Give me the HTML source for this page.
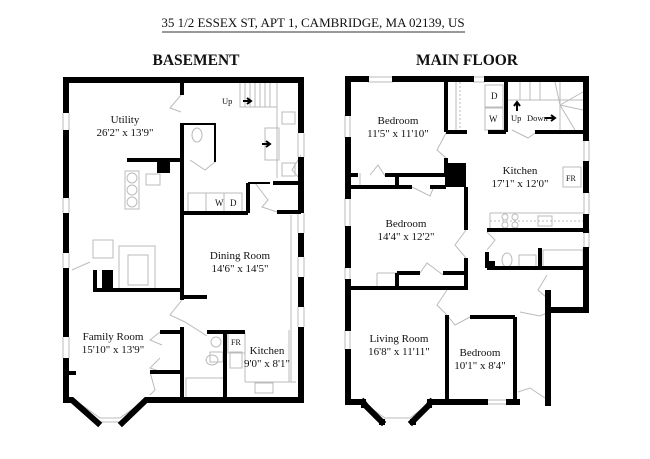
<!DOCTYPE html>
<html><head><meta charset="utf-8"><style>
html,body{margin:0;padding:0;background:#fff;}
svg{display:block;}
text{font-family:"Liberation Serif",serif;fill:#111;}
</style></head><body>
<svg width="650" height="459" viewBox="0 0 650 459" xmlns="http://www.w3.org/2000/svg">
<rect width="650" height="459" fill="#fff"/>
<text x="313" y="27" font-size="13" text-anchor="middle">35 1/2 ESSEX ST,  APT 1, CAMBRIDGE, MA 02139, US</text>
<line x1="162" y1="32" x2="465" y2="32" stroke="#333" stroke-width="1"/>
<text x="196" y="65" font-size="15.5" font-weight="bold" text-anchor="middle">BASEMENT</text>
<text x="467" y="65" font-size="15.5" font-weight="bold" text-anchor="middle">MAIN FLOOR</text>

<!-- BASEMENT -->
<g fill="none" stroke="#bbb" stroke-width="1">
<!-- windows -->
<line x1="63" y1="113" x2="63" y2="130"/><line x1="69" y1="113" x2="69" y2="130"/>
<line x1="63" y1="198" x2="63" y2="213"/><line x1="69" y1="198" x2="69" y2="213"/>
<line x1="63" y1="253" x2="63" y2="268"/><line x1="69" y1="253" x2="69" y2="268"/>
<line x1="63" y1="337" x2="63" y2="358"/><line x1="69" y1="337" x2="69" y2="358"/>
<line x1="298" y1="133" x2="298" y2="157"/><line x1="304" y1="133" x2="304" y2="157"/>
<line x1="298" y1="213" x2="298" y2="233"/><line x1="304" y1="213" x2="304" y2="233"/>
<line x1="298" y1="257" x2="298" y2="277"/><line x1="304" y1="257" x2="304" y2="277"/>
<line x1="298" y1="307" x2="298" y2="327"/><line x1="304" y1="307" x2="304" y2="327"/>
<!-- bay interior -->
<polyline points="75,400 100,418 120,418 145,400"/>
<line x1="100" y1="422" x2="120" y2="422"/>
<!-- stairs -->
<rect x="240" y="82" width="37" height="25"/>
<line x1="245" y1="82" x2="245" y2="107"/><line x1="250" y1="82" x2="250" y2="107"/><line x1="255" y1="82" x2="255" y2="107"/><line x1="260" y1="82" x2="260" y2="107"/><line x1="265" y1="82" x2="265" y2="107"/><line x1="270" y1="82" x2="270" y2="107"/>
<line x1="277" y1="82" x2="277" y2="178"/>
<rect x="282" y="112" width="13" height="12"/><rect x="282" y="163" width="13" height="13"/>
<rect x="265" y="128" width="14" height="32"/>
<!-- utility appliances -->
<rect x="125" y="171" width="14" height="38"/>
<circle cx="132" cy="178" r="5"/><circle cx="132" cy="190" r="5"/><circle cx="132" cy="202" r="5"/>
<rect x="146" y="174" width="14" height="11"/>
<rect x="93" y="240" width="20" height="18"/>
<rect x="119" y="246" width="36" height="44"/>
<rect x="128" y="255" width="20" height="30"/>
<!-- bath basement top -->
<ellipse cx="197" cy="135" rx="5" ry="7"/>
<!-- W D -->
<rect x="188" y="193" width="18" height="20"/><rect x="206" y="193" width="18" height="20"/><rect x="224" y="193" width="18" height="20"/>
<!-- doors -->
<polyline points="181,95 170,108 181,112"/>
<polyline points="215,162 205,170 190,160"/>
<polyline points="255,183 268,200 262,207 277,212"/>
<polyline points="301,155 292,170 301,180"/>
<polyline points="72,270 90,262"/>
<polyline points="182,300 170,315 185,322 207,336"/>
<polyline points="160,332 150,340 162,345"/>
<polyline points="160,358 150,368 162,372"/>
<polyline points="150,372 155,390 150,395"/>
<!-- kitchen/bath basement -->
<circle cx="216" cy="342" r="5"/><rect x="210" y="352" width="13" height="10"/>
<ellipse cx="212" cy="360" rx="6" ry="5"/>
<rect x="228" y="333" width="17" height="20"/>
<rect x="186" y="378" width="38" height="20"/>
<line x1="245" y1="353" x2="245" y2="382"/><line x1="245" y1="382" x2="296" y2="382"/>
<line x1="289" y1="330" x2="289" y2="382"/>
<line x1="291" y1="215" x2="291" y2="382"/>
<rect x="255" y="383" width="18" height="10"/>
<rect x="230" y="352" width="12" height="16"/>
</g>
<g stroke="#000" stroke-width="6" stroke-linecap="square" fill="none">
<line x1="66" y1="80" x2="66" y2="110"/>
<line x1="66" y1="133" x2="66" y2="195"/>
<line x1="66" y1="216" x2="66" y2="250"/>
<line x1="66" y1="271" x2="66" y2="334"/>
<line x1="66" y1="361" x2="66" y2="400"/>
<line x1="66" y1="80" x2="301" y2="80"/>
<line x1="301" y1="80" x2="301" y2="130"/>
<line x1="301" y1="160" x2="301" y2="210"/>
<line x1="301" y1="236" x2="301" y2="254"/>
<line x1="301" y1="280" x2="301" y2="304"/>
<line x1="301" y1="330" x2="301" y2="400"/>
<line x1="148" y1="400" x2="301" y2="400"/>
<polyline points="66,400 72,400 98,423"/>
<polyline points="122,423 146,400 150,400"/>
</g>
<g stroke="#000" stroke-width="4" fill="none">
<line x1="182" y1="80" x2="182" y2="95"/>
<line x1="182" y1="123" x2="182" y2="213"/>
<line x1="182" y1="158" x2="182" y2="300"/>
<line x1="182" y1="327" x2="182" y2="400"/>
<line x1="127" y1="160" x2="182" y2="160"/>
<line x1="182" y1="213" x2="248" y2="213"/>
<line x1="248" y1="183" x2="248" y2="213"/>
<line x1="273" y1="183" x2="301" y2="183"/>
<line x1="277" y1="212" x2="301" y2="212"/>
<line x1="93" y1="290" x2="182" y2="290"/>
<line x1="95" y1="270" x2="95" y2="290"/>
<line x1="182" y1="297" x2="207" y2="297"/>
<line x1="160" y1="332" x2="182" y2="332"/>
<line x1="150" y1="372" x2="182" y2="372"/>
<line x1="207" y1="332" x2="245" y2="332"/>
<line x1="225" y1="332" x2="225" y2="400"/>
<line x1="66" y1="373" x2="76" y2="373"/>
</g>
<g stroke="#000" stroke-width="2" fill="none">
<polyline points="182,124 215,124 215,162"/>
<line x1="248" y1="183" x2="270" y2="183"/>
</g>
<rect x="157" y="160" width="13" height="13" fill="#000"/>
<rect x="102" y="270" width="11" height="20" fill="#000"/>
<path d="M243,101 h7 M247,98 l4,3 l-4,3" stroke="#000" stroke-width="2" fill="none"/>
<path d="M262,144 h7 M266,141 l4,3 l-4,3" stroke="#000" stroke-width="2" fill="none"/>
<text x="222" y="104" font-size="8.5">Up</text>
<text x="215" y="206" font-size="9">W</text>
<text x="230" y="206" font-size="9">D</text>
<text x="231" y="345" font-size="8">FR</text>
<text x="125" y="123" font-size="11" text-anchor="middle">Utility</text>
<text x="125" y="136" font-size="11" text-anchor="middle">26'2" x 13'9"</text>
<text x="240" y="259" font-size="11" text-anchor="middle">Dining Room</text>
<text x="240" y="272" font-size="11" text-anchor="middle">14'6" x 14'5"</text>
<text x="113" y="340" font-size="11" text-anchor="middle">Family Room</text>
<text x="113" y="353" font-size="11" text-anchor="middle">15'10" x 13'9"</text>
<text x="267" y="354" font-size="11" text-anchor="middle">Kitchen</text>
<text x="267" y="367" font-size="11" text-anchor="middle">9'0" x 8'1"</text>

<!-- MAIN FLOOR -->
<g fill="none" stroke="#bbb" stroke-width="1">
<line x1="345" y1="115" x2="345" y2="138"/><line x1="350" y1="115" x2="350" y2="138"/>
<line x1="345" y1="198" x2="345" y2="227"/><line x1="350" y1="198" x2="350" y2="227"/>
<line x1="345" y1="267" x2="345" y2="280"/><line x1="350" y1="267" x2="350" y2="280"/>
<line x1="345" y1="330" x2="345" y2="350"/><line x1="350" y1="330" x2="350" y2="350"/>
<line x1="368" y1="77" x2="393" y2="77"/><line x1="368" y1="82" x2="393" y2="82"/>
<line x1="473" y1="77" x2="485" y2="77"/><line x1="473" y1="82" x2="485" y2="82"/>
<line x1="584" y1="140" x2="584" y2="162"/><line x1="589" y1="140" x2="589" y2="162"/>
<line x1="584" y1="192" x2="584" y2="215"/><line x1="589" y1="192" x2="589" y2="215"/>
<line x1="584" y1="230" x2="584" y2="248"/><line x1="589" y1="230" x2="589" y2="248"/>
<line x1="487" y1="400" x2="507" y2="400"/><line x1="487" y1="404" x2="507" y2="404"/>
<polyline points="365,404 385,418 410,418 428,404"/>
<!-- stairs left closet -->
<line x1="456" y1="82" x2="456" y2="130"/><line x1="460" y1="82" x2="460" y2="130" stroke-dasharray="2,2"/>
<rect x="485" y="85" width="18" height="22"/><rect x="485" y="108" width="18" height="22"/>
<!-- stairs right -->
<line x1="507" y1="100" x2="586" y2="100"/>
<line x1="520" y1="82" x2="520" y2="100"/><line x1="530" y1="82" x2="530" y2="100"/><line x1="540" y1="82" x2="540" y2="100"/>
<line x1="555" y1="82" x2="560" y2="105"/><line x1="560" y1="82" x2="560" y2="105"/><line x1="583" y1="92" x2="560" y2="105"/><line x1="583" y1="110" x2="560" y2="105"/><line x1="575" y1="130" x2="560" y2="105"/><line x1="560" y1="105" x2="560" y2="130"/>
<!-- FR -->
<rect x="563" y="167" width="18" height="20"/>
<!-- counter -->
<line x1="490" y1="213" x2="584" y2="213"/><line x1="490" y1="213" x2="490" y2="228"/>
<line x1="490" y1="221" x2="584" y2="221" stroke-dasharray="2,2"/>
<circle cx="505" cy="217" r="3"/><circle cx="515" cy="217" r="3"/><circle cx="505" cy="225" r="3"/><circle cx="515" cy="225" r="3"/>
<rect x="538" y="216" width="14" height="10"/>
<!-- bath -->
<ellipse cx="507" cy="260" rx="5" ry="7"/>
<rect x="519" y="255" width="17" height="12"/>
<rect x="543" y="250" width="40" height="17"/>
<!-- doors -->
<polyline points="446,133 437,150 446,158"/>
<polyline points="370,175 378,165 385,176"/>
<polyline points="412,187 430,196 433,189"/>
<polyline points="466,230 455,245 466,258"/>
<polyline points="420,273 427,263 443,275"/>
<polyline points="447,290 437,305 447,315"/>
<polyline points="447,315 455,325 470,317"/>
<polyline points="535,133 528,138 512,130"/>
<polyline points="487,232 495,240 487,250"/>
<polyline points="547,275 538,290 547,298"/>
<polyline points="520,312 540,316 547,313"/>
<polyline points="518,392 530,388 545,398"/>
<line x1="377" y1="287" x2="377" y2="273"/><line x1="377" y1="273" x2="397" y2="273"/>
<line x1="360" y1="187" x2="360" y2="173"/>
<line x1="487" y1="130" x2="507" y2="130"/>
</g>
<g stroke="#000" stroke-width="6" stroke-linecap="square" fill="none">
<line x1="348" y1="79" x2="348" y2="113"/>
<line x1="348" y1="140" x2="348" y2="196"/>
<line x1="348" y1="229" x2="348" y2="265"/>
<line x1="348" y1="282" x2="348" y2="328"/>
<line x1="348" y1="352" x2="348" y2="402"/>
<line x1="348" y1="79" x2="366" y2="79"/>
<line x1="395" y1="79" x2="471" y2="79"/>
<line x1="487" y1="79" x2="586" y2="79"/>
<line x1="586" y1="79" x2="586" y2="138"/>
<line x1="586" y1="164" x2="586" y2="190"/>
<line x1="586" y1="217" x2="586" y2="230"/>
<line x1="586" y1="250" x2="586" y2="310"/>
<line x1="586" y1="310" x2="548" y2="310"/>
<line x1="548" y1="293" x2="548" y2="403"/>
<line x1="348" y1="402" x2="363" y2="402"/>
<line x1="430" y1="402" x2="485" y2="402"/>
<line x1="509" y1="402" x2="517" y2="402"/>
<polyline points="363,402 366,406 382,422"/>
<polyline points="412,422 428,406 431,402"/>
</g>
<rect x="379" y="419" width="6" height="6" fill="#000"/><rect x="410" y="419" width="6" height="6" fill="#000"/>
<rect x="361" y="403" width="5" height="5" fill="#000"/><rect x="427" y="403" width="5" height="5" fill="#000"/>
<g stroke="#000" stroke-width="4" fill="none">
<line x1="446" y1="79" x2="446" y2="132"/>
<line x1="446" y1="132" x2="467" y2="132"/>
<line x1="446" y1="158" x2="446" y2="174"/>
<line x1="348" y1="175" x2="358" y2="175"/>
<line x1="385" y1="175" x2="446" y2="175"/>
<line x1="348" y1="187" x2="412" y2="187"/>
<line x1="430" y1="187" x2="446" y2="187"/>
<line x1="397" y1="175" x2="397" y2="187"/>
<line x1="466" y1="187" x2="466" y2="230"/>
<line x1="466" y1="258" x2="466" y2="290"/>
<line x1="397" y1="273" x2="420" y2="273"/>
<line x1="443" y1="273" x2="466" y2="273"/>
<line x1="397" y1="273" x2="397" y2="288"/>
<line x1="348" y1="288" x2="466" y2="288"/>
<line x1="447" y1="315" x2="447" y2="402"/>
<line x1="470" y1="317" x2="515" y2="317"/>
<line x1="515" y1="317" x2="515" y2="402"/>
<line x1="506" y1="79" x2="506" y2="132"/>
<line x1="488" y1="132" x2="506" y2="132"/>
<line x1="535" y1="132" x2="586" y2="132"/>
<line x1="487" y1="230" x2="586" y2="230"/>
<line x1="540" y1="248" x2="540" y2="268"/>
<line x1="487" y1="268" x2="583" y2="268"/>
<line x1="487" y1="252" x2="487" y2="268"/>
</g>
<rect x="445" y="163" width="21" height="24" fill="#000"/>
<rect x="487" y="261" width="8" height="8" fill="#000"/>
<path d="M517,111 v-8 M514,106 l3,-4 l3,4" stroke="#000" stroke-width="2" fill="none"/>
<path d="M545,118 h9 M551,115 l4,3 l-4,3" stroke="#000" stroke-width="2" fill="none"/>
<text x="491" y="99" font-size="9">D</text>
<text x="489" y="122" font-size="9">W</text>
<text x="511" y="121" font-size="8.5">Up</text>
<text x="527" y="121" font-size="8.5">Down</text>
<text x="566" y="181" font-size="8">FR</text>
<text x="398" y="124" font-size="11" text-anchor="middle">Bedroom</text>
<text x="398" y="137" font-size="11" text-anchor="middle">11'5" x 11'10"</text>
<text x="406" y="227" font-size="11" text-anchor="middle">Bedroom</text>
<text x="406" y="240" font-size="11" text-anchor="middle">14'4" x 12'2"</text>
<text x="520" y="174" font-size="11" text-anchor="middle">Kitchen</text>
<text x="520" y="187" font-size="11" text-anchor="middle">17'1" x 12'0"</text>
<text x="399" y="342" font-size="11" text-anchor="middle">Living Room</text>
<text x="399" y="355" font-size="11" text-anchor="middle">16'8" x 11'11"</text>
<text x="480" y="356" font-size="11" text-anchor="middle">Bedroom</text>
<text x="480" y="369" font-size="11" text-anchor="middle">10'1" x 8'4"</text>
</svg>
</body></html>
